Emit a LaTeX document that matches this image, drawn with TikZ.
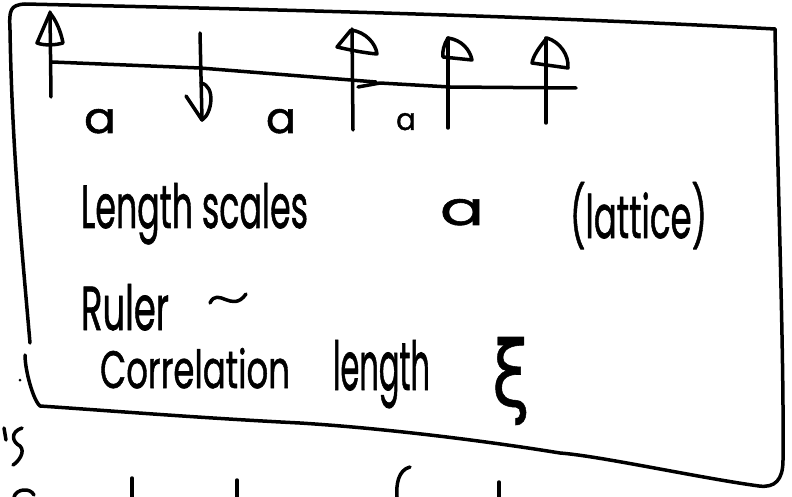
\documentclass[tikz,border=0pt]{standalone}
\usepackage{fontspec}
\usepackage{graphicx}
\setmainfont{Poppins}[FakeBold=1.2]
\newfontfamily\grk{DejaVu Sans}[FakeBold=0.6]
\tikzset{
  ink/.style={line width=3.5pt, line cap=round, line join=round, black},
  lbl/.style={anchor=base west, inner sep=0pt, outer sep=0pt}
}
\begin{document}
\begin{tikzpicture}[x=1pt,y=-1pt]
\useasboundingbox (0,0) rectangle (792,497);
\clip (0,0) rectangle (792,497);
% frame
\draw[ink] (30,343) .. controls (22,250) and (12,150) .. (10,30)
  .. controls (9,10) and (10,5) .. (25,4)
  .. controls (200,8) and (500,14) .. (775,29);
\draw[ink] (775,29) .. controls (778,200) and (784,350) .. (783,460)
  .. controls (783,480) and (775,488) .. (759,486)
  .. controls (700,478) and (600,456) .. (560,453)
  .. controls (480,440) and (380,428) .. (300,423)
  .. controls (200,418) and (100,410) .. (40,406)
  .. controls (33,400) and (25,370) .. (25,355);
\fill (20,380) circle (1.5pt);
% chain line
\draw[ink] (52,62) -- (200,68) -- (376,82);
\draw[ink] (358,87) -- (380,83) -- (450,87) -- (576,88);
% spin 1 (up)
\draw[ink] (51,97) -- (50,12);
\draw[ink] (50,13) -- (37,43) .. controls (45,46) and (56,45) .. (63,43) .. controls (61,32) and (56,20) .. (50,13);
% spin 2 (down)
\draw[ink] (200,33) -- (202,120);
\draw[ink] (186,96) -- (202,120) .. controls (212,114) and (216,86) .. (201,83);
% spin 3 (up)
\draw[ink] (353,130) -- (352,29);
\draw[ink] (351,30) -- (337,47) .. controls (350,50) and (365,53) .. (377,54) .. controls (376,44) and (366,32) .. (351,30);
% spin 4 (up)
\draw[ink] (448,128) -- (448,38);
\draw[ink] (448,38) .. controls (444,44) and (442,52) .. (443,57) -- (472,60) .. controls (470,50) and (462,40) .. (448,38);
% spin 5 (up)
\draw[ink] (546,123) -- (546,38);
\draw[ink] (547,38) .. controls (540,46) and (533,56) .. (532,63) -- (568,68) .. controls (569,55) and (560,42) .. (547,38);
% spacing labels
\node[lbl] (a1) at (84,133) {\resizebox{32pt}{24pt}{a}};
\node[lbl] (a2) at (266,133) {\resizebox{30pt}{24pt}{a}};
\node[lbl] (a3) at (396,130) {\resizebox{20pt}{17pt}{a}};
% text
\node[lbl] (len) at (81,228) {\resizebox{227pt}{45pt}{Length scales}};
\node[lbl] (abig) at (440,225) {\resizebox{44pt}{26pt}{a}};
\node[lbl] (lat) at (570,238) {\resizebox{137pt}{56pt}{(lattice)}};
\node[lbl] (ruler) at (81,330) {\resizebox{88pt}{46pt}{Ruler}};
\draw[ink] (210,303) .. controls (218,286) and (232,314) .. (246,294);
\node[lbl] (corr) at (100,388) {\resizebox{190pt}{40pt}{Correlation}};
\node[lbl] (lg) at (333,390) {\resizebox{97pt}{50pt}{length}};
\node[anchor=north west, inner sep=0pt, outer sep=0pt] (xi) at (492,337) {\resizebox*{38pt}{88pt}{\grk ξ}};
% cut-off fragments of the page below
\draw[ink] (4,428) -- (6,440);
\draw[ink] (22,428) .. controls (10,432) and (12,442) .. (20,446) .. controls (26,452) and (18,462) .. (13,465);
\draw[ink] (14,497) .. controls (16,489) and (30,487) .. (34,495);
\draw[ink] (132,478) -- (132,497);
\draw[ink] (237,480) -- (237,497);
\draw[ink] (410,467) .. controls (398,470) and (396,485) .. (397,497);
\draw[ink] (499,482) -- (499,497);
\end{tikzpicture}
\end{document}
